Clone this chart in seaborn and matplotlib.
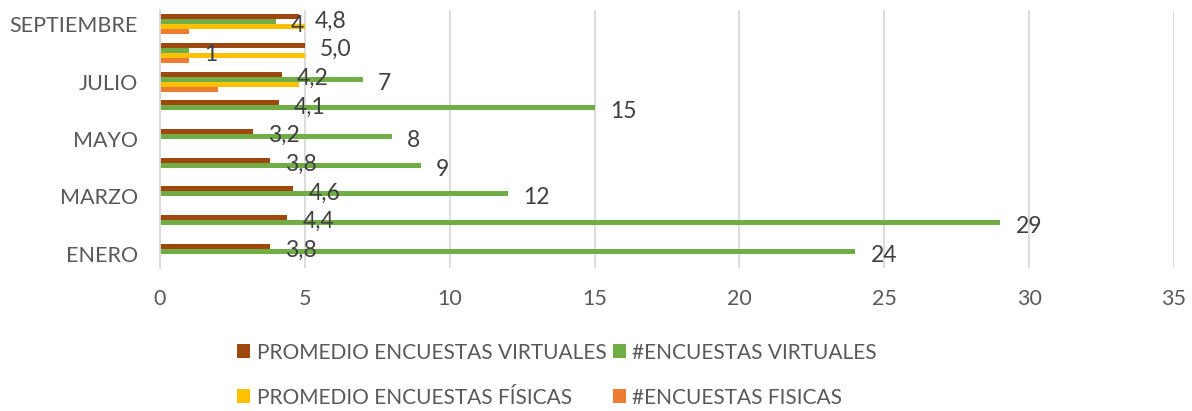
import matplotlib
matplotlib.use("Agg")
import matplotlib.pyplot as plt
import seaborn as sns
import pandas as pd
import numpy as np

months = ["ENERO", "FEBRERO", "MARZO", "ABRIL", "MAYO", "JUNIO", "JULIO", "AGOSTO", "SEPTIEMBRE"]
promedio_virtuales = [3.8, 4.4, 4.6, 3.8, 3.2, 4.1, 4.2, 5.0, 4.8]
encuestas_virtuales = [24, 29, 12, 9, 8, 15, 7, 1, 4]
promedio_fisicas = [0, 0, 0, 0, 0, 0, 4.8, 5.0, 5.0]
encuestas_fisicas = [0, 0, 0, 0, 0, 0, 2, 1, 1]

series_names = ["PROMEDIO ENCUESTAS VIRTUALES", "#ENCUESTAS VIRTUALES",
                "PROMEDIO ENCUESTAS FÍSICAS", "#ENCUESTAS FISICAS"]
colors = ["#9E480E", "#70AD47", "#FFC000", "#ED7D31"]
tick_labels_shown = {"ENERO", "MARZO", "MAYO", "JULIO", "SEPTIEMBRE"}

rows = []
for name, vals in zip(series_names, [promedio_virtuales, encuestas_virtuales,
                                     promedio_fisicas, encuestas_fisicas]):
    for m, v in zip(months, vals):
        rows.append({"mes": m, "serie": name, "valor": v})
df = pd.DataFrame(rows)

sns.set_style("white")
plt.rcParams["font.family"] = ["Lato", "DejaVu Sans"]

fig = plt.figure(figsize=(11.92, 4.11), dpi=100)
ax = fig.add_axes([160/1192, 1 - 268/411, 1014/1192, (268 - 10)/411])

order = months[::-1]
sns.barplot(data=df, y="mes", x="valor", hue="serie", order=order,
            hue_order=series_names, palette=colors, orient="h", saturation=1,
            width=0.7, linewidth=0, errorbar=None, ax=ax, legend=True)

ax.set_xlim(0, 35)
ax.set_xticks(range(0, 36, 5))
ax.set_ylim(len(months) - 0.5, -0.5)
ax.set_xlabel("")
ax.set_ylabel("")
ax.set_yticks(range(len(order)))
ax.set_yticklabels([m if m in tick_labels_shown else "" for m in order])
ax.grid(axis="x", color="#D9D9D9", linewidth=1.3)
ax.set_axisbelow(True)
for s in ["top", "right", "bottom"]:
    ax.spines[s].set_visible(False)
ax.spines["left"].set_color("#D9D9D9")
ax.spines["left"].set_linewidth(1.3)
ax.tick_params(axis="both", length=0, labelsize=15.5, labelcolor="#595959")
ax.tick_params(axis="x", pad=15)
ax.tick_params(axis="y", pad=16)

# data labels for first two series
containers = ax.containers
lab_prom = [f"{v:.1f}".replace(".", ",") for v in promedio_virtuales[::-1]]
lab_enc = [f"{v:d}" for v in encuestas_virtuales[::-1]]
for cont, labs in [(containers[0], lab_prom), (containers[1], lab_enc)]:
    anns = ax.bar_label(cont, labels=labs, padding=11, fontsize=16.5, color="#404040")
    for a in anns:
        a.xyann = (a.xyann[0], -3)

handles, labels = ax.get_legend_handles_labels()
ax.get_legend().remove()
idx = [0, 2, 1, 3]
fig.legend([handles[i] for i in idx], [labels[i] for i in idx], loc="center",
           bbox_to_anchor=(557/1192, 1 - 375/411),
           ncol=2, frameon=False, fontsize=15, labelcolor="#595959",
           handlelength=0.65, handleheight=0.65, handletextpad=0.3,
           columnspacing=0.3, labelspacing=1.2)

fig.savefig("out.png", dpi=100)
